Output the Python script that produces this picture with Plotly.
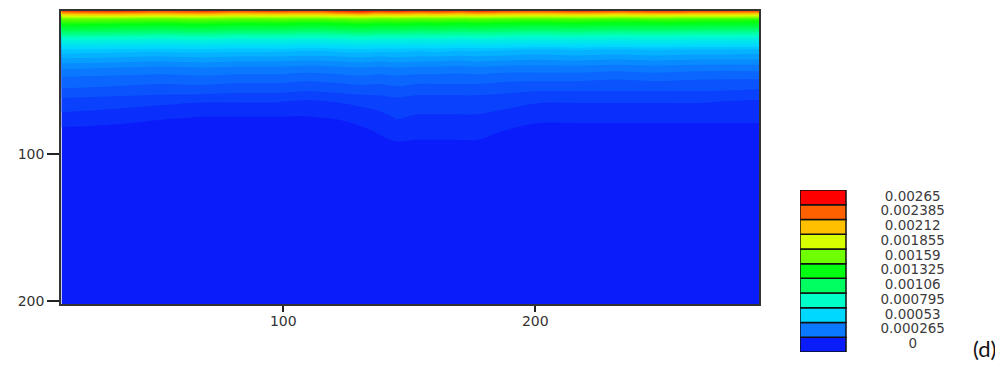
import plotly.graph_objects as go

# ---- data -------------------------------------------------------------
x_nodes = [12, 33, 52, 68, 82, 97, 110, 122, 131, 138, 145, 153, 161, 169, 177, 189, 202, 217, 232, 247, 266, 289]
depths = [2.5, 5, 8, 16, 22, 29, 35, 41, 48, 57, 64, 75, 84, 95, 110, 150, 202]

row_d2_5 = [0.00250, 0.00256, 0.00250, 0.00254, 0.00248, 0.00252, 0.00250, 0.00256, 0.00262, 0.00254, 0.00258, 0.00252, 0.00256, 0.00250, 0.00256, 0.00250, 0.00248, 0.00252, 0.00248, 0.00254, 0.00250, 0.00246]
row_d5 = [0.00205, 0.00210, 0.00206, 0.00210, 0.00204, 0.00206, 0.00204, 0.00210, 0.00214, 0.00208, 0.00210, 0.00206, 0.00208, 0.00204, 0.00208, 0.00204, 0.00202, 0.00204, 0.00200, 0.00204, 0.00202, 0.00198]
row_d8 = [0.00160, 0.00158, 0.00156, 0.00158, 0.00155, 0.00156, 0.00154, 0.00156, 0.00158, 0.00156, 0.00157, 0.00155, 0.00156, 0.00154, 0.00155, 0.00153, 0.00152, 0.00153, 0.00150, 0.00152, 0.00150, 0.00148]
row_d16 = [0.00112, 0.00110, 0.00108, 0.00110, 0.00108, 0.00108, 0.00106, 0.00108, 0.00110, 0.00108, 0.00108, 0.00106, 0.00107, 0.00105, 0.00106, 0.00104, 0.00103, 0.00104, 0.00102, 0.00103, 0.00101, 0.00100]
row_d22 = [0.00076, 0.00075, 0.00074, 0.00075, 0.00073, 0.00074, 0.00072, 0.00074, 0.00075, 0.00074, 0.00074, 0.00072, 0.00073, 0.00071, 0.00072, 0.00071, 0.00070, 0.00071, 0.00069, 0.00070, 0.00069, 0.00068]
row_d29 = [0.00052, 0.00051, 0.00050, 0.00051, 0.00050, 0.00050, 0.00049, 0.00050, 0.00051, 0.00050, 0.00050, 0.00049, 0.00050, 0.00049, 0.00049, 0.00048, 0.00047, 0.00048, 0.00047, 0.00048, 0.00047, 0.00046]
row_d35 = [0.00042, 0.00041, 0.00040, 0.00041, 0.00040, 0.00040, 0.00039, 0.00040, 0.00041, 0.00040, 0.00041, 0.00040, 0.00040, 0.00039, 0.00040, 0.00039, 0.00038, 0.00039, 0.00038, 0.00039, 0.00038, 0.00038]
row_d41 = [0.00033, 0.00032, 0.00031, 0.00032, 0.00031, 0.00031, 0.00030, 0.00031, 0.00032, 0.00031, 0.00032, 0.00031, 0.00031, 0.00030, 0.00031, 0.00030, 0.00030, 0.00030, 0.00029, 0.00030, 0.00029, 0.00029]
row_d48 = [0.00026, 0.00025, 0.00024, 0.00025, 0.00024, 0.00024, 0.00023, 0.00024, 0.00025, 0.00024, 0.00025, 0.00024, 0.00024, 0.00024, 0.00024, 0.00023, 0.00023, 0.00023, 0.00022, 0.00023, 0.00022, 0.00022]
row_d57 = [0.00020, 0.00019, 0.00018, 0.00018, 0.00017, 0.00017, 0.00016, 0.00017, 0.00018, 0.00018, 0.00019, 0.00018, 0.00018, 0.00018, 0.00018, 0.00017, 0.00016, 0.00016, 0.00016, 0.00016, 0.00016, 0.00015]
row_d64 = [0.00014, 0.00013, 0.00012, 0.00011, 0.00011, 0.00011, 0.00010, 0.00011, 0.00012, 0.00013, 0.00014, 0.00013, 0.00013, 0.00013, 0.00013, 0.00012, 0.00011, 0.00011, 0.00011, 0.00011, 0.00011, 0.00010]
row_d75 = [0.00009, 0.00008, 0.00006, 0.00005, 0.00005, 0.00005, 0.00005, 0.00006, 0.00008, 0.00009, 0.00011, 0.00010, 0.00010, 0.00010, 0.00010, 0.00009, 0.00007, 0.00007, 0.00007, 0.00007, 0.00007, 0.00007]
row_d84 = [0.00004, 0.00003, 0.00002, 0.00001, 0.00001, 0.00001, 0.00001, 0.00002, 0.00004, 0.00006, 0.00008, 0.00007, 0.00007, 0.00007, 0.00007, 0.00005, 0.00003, 0.00003, 0.00003, 0.00003, 0.00003, 0.00003]
row_d95 = [0, 0, 0, 0, 0, 0, 0, 0, 0.00001, 0.00003, 0.00004, 0.00004, 0.00004, 0.00004, 0.00004, 0.00003, 0.00001, 0, 0, 0, 0, 0]
row_d110 = [0] * 22
row_d150 = [0] * 22
row_d202 = [0] * 22

z_rows = [row_d2_5, row_d5, row_d8, row_d16, row_d22, row_d29, row_d35, row_d41,
          row_d48, row_d57, row_d64, row_d75, row_d84, row_d95, row_d110, row_d150, row_d202]

legend_levels = ["0", "0.000265", "0.00053", "0.000795", "0.00106", "0.001325",
                 "0.00159", "0.001855", "0.00212", "0.002385", "0.00265"]
legend_colors = ["#0A1CFA", "#0A78FF", "#00D8FF", "#00FFC8", "#00FF60", "#00FF10",
                 "#70FF00", "#D8FF00", "#FFC000", "#FF6000", "#FF0000"]
x_ticks = [100, 200]
y_ticks = [100, 200]

# ---- figure -----------------------------------------------------------
zmax = float(legend_levels[-1])
step = zmax / 50
colorscale = [[i / (len(legend_colors) - 1), c] for i, c in enumerate(legend_colors)]

# page body has an 8px margin; place everything in viewport pixels
OFF = 8
W, H = 1003 - OFF, 368 - OFF
def fx(p):
    return (p - OFF) / W
def fy(p):
    return 1 - (p - OFF) / H

fig = go.Figure()
fig.add_trace(go.Contour(
    x=x_nodes, y=depths, z=z_rows,
    colorscale=colorscale,
    contours=dict(start=step, end=zmax, size=step, coloring="fill", showlines=False),
    line=dict(width=0), showscale=False, hoverinfo="skip",
    xaxis="x", yaxis="y",
))

n = len(legend_levels)
fig.add_trace(go.Bar(
    x=[0] * n, y=[1] * n, base=list(range(n)), width=1,
    marker=dict(color=legend_colors, line=dict(color="#111111", width=1.5)),
    xaxis="x2", yaxis="y2", showlegend=False, hoverinfo="skip",
))
fig.add_trace(go.Scatter(
    x=[1.95] * n, y=[i + 0.5 for i in range(n)], text=legend_levels,
    mode="text", textfont=dict(family="DejaVu Sans", size=13.5, color="#3c3c3c"),
    xaxis="x2", yaxis="y2", showlegend=False, hoverinfo="skip",
))

tickfont = dict(family="DejaVu Sans", size=14, color="#333333")
fig.update_layout(
    width=W, height=H, margin=dict(l=0, r=0, t=0, b=0),
    paper_bgcolor="white", plot_bgcolor="white",
    xaxis=dict(domain=[fx(61), fx(759)], range=[11.8, 288.8], tickvals=x_ticks,
               ticks="outside", ticklen=6, tickwidth=1.5, tickcolor="#222",
               showline=True, linecolor="#333", linewidth=1.5, mirror=True,
               showgrid=False, zeroline=False, tickfont=tickfont, anchor="y",
               automargin=False, ticklabelstandoff=-3),
    yaxis=dict(domain=[fy(304), fy(11)], range=[202, 2.5], tickvals=y_ticks,
               ticks="outside", ticklen=12, tickwidth=1.5, tickcolor="#222",
               showline=True, linecolor="#333", linewidth=1.5, mirror=True,
               showgrid=False, zeroline=False, tickfont=tickfont, anchor="x",
               automargin=False),
    xaxis2=dict(domain=[fx(800), fx(984)], range=[-0.5, 3.5], visible=False,
                anchor="y2", automargin=False),
    yaxis2=dict(domain=[fy(352), fy(190)], range=[0, n], visible=False,
                anchor="x2", automargin=False),
    barmode="overlay",
    annotations=[dict(text="(d)", x=fx(984), y=fy(348), xref="paper", yref="paper",
                      xanchor="center", yanchor="middle",
                      showarrow=False, font=dict(family="Lato", size=22, color="#111"))],
)

fig.write_html("out.html")
